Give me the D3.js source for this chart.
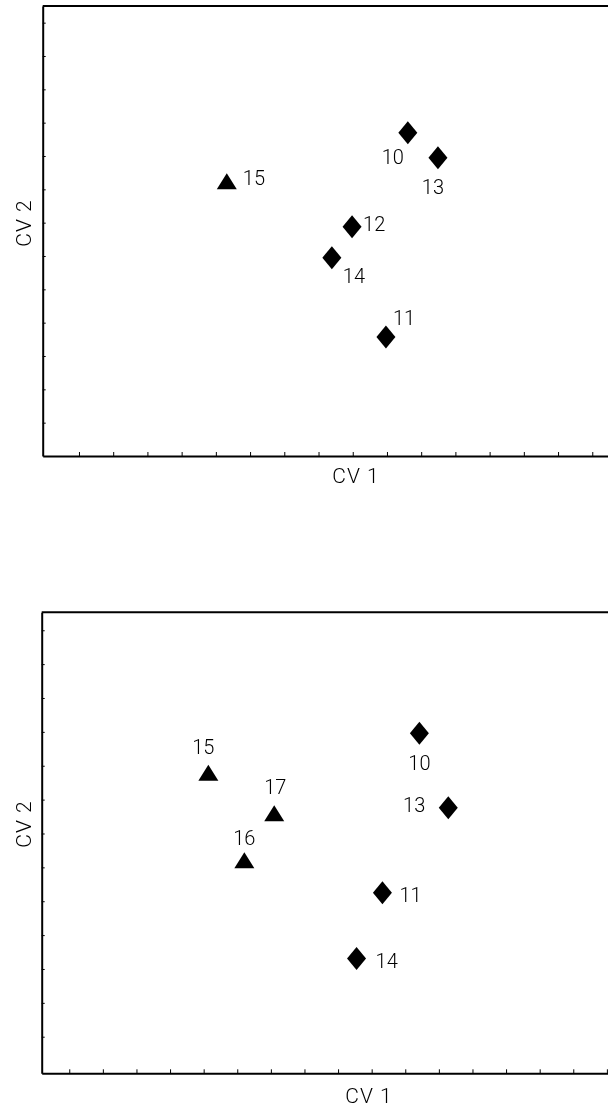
<!DOCTYPE html>
<html>
<head>
<meta charset="utf-8">
<script src="https://cdn.jsdelivr.net/npm/d3@7"></script>
<style>
  body { margin: 0; background: #fff; }
  svg { will-change: transform; }
  text { font-family: Roboto, "DejaVu Sans", sans-serif; font-weight: 300; fill: #000; }
</style>
</head>
<body>
<div id="chart"></div>
<script>
// panel A (top)
var idsA    = ["10", "11", "12", "13", "14", "15"];
var groupA  = ["d", "d", "d", "d", "d", "t"];   // d = diamond, t = triangle
var cv1A    = [10.61, 9.97, 8.98, 11.49, 8.39, 5.32];
var cv2A    = [9.70, 3.57, 6.88, 8.95, 5.95, 8.24];

// panel B (bottom)
var idsB    = ["10", "11", "13", "14", "15", "16", "17"];
var groupB  = ["d", "d", "d", "d", "t", "t", "t"];
var cv1B    = [11.42, 10.32, 12.28, 9.55, 5.14, 6.21, 7.10];
var cv2B    = [9.96, 5.25, 7.76, 3.31, 8.79, 6.21, 7.60];

var xTickVals = d3.range(1, 18);
var yTickVals = d3.range(1, 14);

// label placement [dx, dy, anchor]
var labA = [[-15, 24, "middle"], [7, -19, "start"], [11, -3, "start"], [-5, 29, "middle"], [11, 18, "start"], [16, -3, "start"]];
var labB = [[0, 30, "middle"], [17, 2, "start"], [-23, -3, "end"], [19, 3, "start"], [-5, -26, "middle"], [0, -22, "middle"], [1, -26, "middle"]];

var w = 608, h = 1110;

var svg = d3.select("#chart")
    .append("svg")
    .attr("width", w)
    .attr("height", h);

var diamond = "M0,-11.5L9.5,0L0,11.5L-9.5,0Z";
var triangle = "M0,-8L10,8L-10,8Z";

function panel(ids, groups, cv1, cv2, labs, xDom, xRange, yDom, yRange, xLab, yLab) {
    var x = d3.scaleLinear().domain(xDom).range(xRange);
    var y = d3.scaleLinear().domain(yDom).range(yRange);
    var g = svg.append("g");

    g.append("g")
        .attr("transform", "translate(0," + yRange[0] + ")")
        .call(d3.axisBottom(x).tickValues(xTickVals).tickSizeInner(-4).tickSizeOuter(0).tickFormat(""))
        .call(function(a) { a.select(".domain").attr("stroke-width", 2); });

    g.append("g")
        .attr("transform", "translate(" + xRange[0] + ",0)")
        .call(d3.axisLeft(y).tickValues(yTickVals).tickSizeInner(-3).tickSizeOuter(0).tickFormat(""))
        .call(function(a) { a.select(".domain").attr("stroke-width", 2); });

    // top frame line
    g.append("line")
        .attr("x1", xRange[0]).attr("x2", xRange[1])
        .attr("y1", yRange[1]).attr("y2", yRange[1])
        .attr("stroke", "#000").attr("stroke-width", 2);

    var pts = d3.range(ids.length);

    g.selectAll("path.pt")
        .data(pts)
        .enter()
        .append("path")
        .attr("class", "pt")
        .attr("d", function(i) { return groups[i] === "d" ? diamond : triangle; })
        .attr("transform", function(i) { return "translate(" + x(cv1[i]) + "," + y(cv2[i]) + ")"; })
        .attr("fill", "#000");

    g.selectAll("text.lab")
        .data(pts)
        .enter()
        .append("text")
        .attr("class", "lab")
        .attr("x", function(i) { return x(cv1[i]) + labs[i][0]; })
        .attr("y", function(i) { return y(cv2[i]) + labs[i][1]; })
        .attr("dy", "0.35em")
        .attr("text-anchor", function(i) { return labs[i][2]; })
        .attr("font-size", 20)
        .text(function(i) { return ids[i]; });

    g.append("text")
        .attr("x", xLab[0])
        .attr("y", xLab[1])
        .attr("dy", "0.35em")
        .attr("text-anchor", "middle")
        .attr("font-size", 21)
        .attr("letter-spacing", 1)
        .text("CV 1");

    g.append("text")
        .attr("transform", "translate(" + yLab[0] + "," + yLab[1] + ") rotate(-90)")
        .attr("dy", "0.35em")
        .attr("text-anchor", "middle")
        .attr("font-size", 21)
        .attr("letter-spacing", 1)
        .text("CV 2");
}

panel(idsA, groupA, cv1A, cv2A, labA, [-0.06, 17], [42.7, 626.5], [0, 13.5], [456, 6], [356, 476], [24, 223]);
panel(idsB, groupB, cv1B, cv2B, labB, [0.18, 17.2], [41.7, 613.6], [-0.08, 13.53], [1073.3, 612.3], [369, 1096], [24, 824]);
</script>
</body>
</html>
